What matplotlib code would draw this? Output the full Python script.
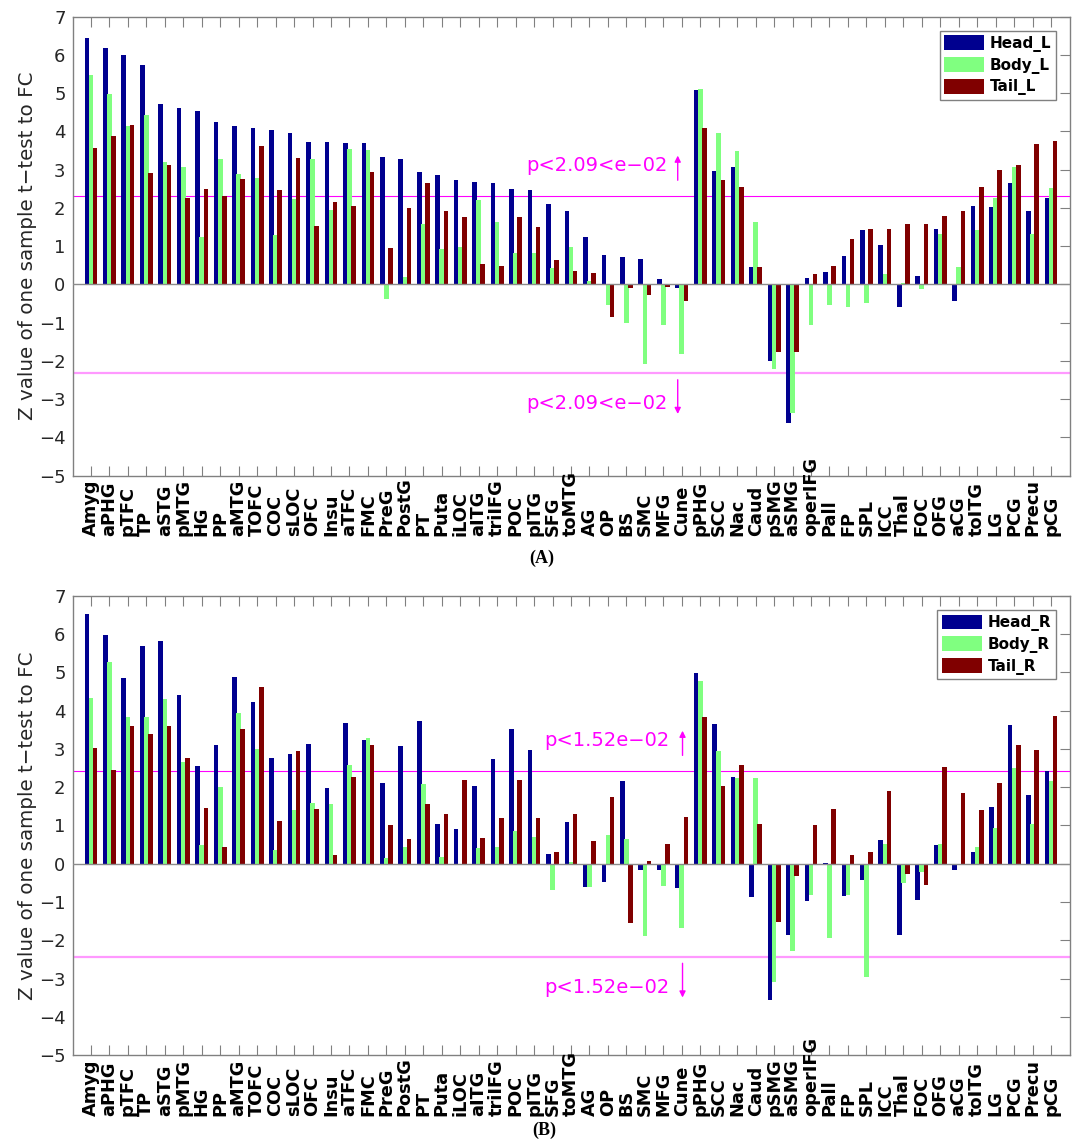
import numpy as np
import matplotlib
matplotlib.use("Agg")
import matplotlib.pyplot as plt

regions = ['Amyg', 'aPHG', 'pTFC', 'TP', 'aSTG', 'pMTG', 'HG', 'PP', 'aMTG', 'TOFC',
           'COC', 'sLOC', 'OFC', 'Insu', 'aTFC', 'FMC', 'PreG', 'PostG', 'PT', 'Puta',
           'iLOC', 'aITG', 'triIFG', 'POC', 'pITG', 'SFG', 'toMTG', 'AG', 'OP', 'BS',
           'SMC', 'MFG', 'Cune', 'pPHG', 'SCC', 'Nac', 'Caud', 'pSMG', 'aSMG', 'operIFG',
           'Pall', 'FP', 'SPL', 'ICC', 'Thal', 'FOC', 'OFG', 'aCG', 'toITG', 'LG',
           'PCG', 'Precu', 'pCG']

# left hippocampus
head_L = [6.43, 6.19, 6.00, 5.73, 4.71, 4.61, 4.52, 4.24, 4.15, 4.08,
          4.03, 3.95, 3.72, 3.72, 3.69, 3.69, 3.32, 3.27, 2.95, 2.86,
          2.72, 2.68, 2.66, 2.50, 2.48, 2.10, 1.93, 1.25, 0.78, 0.71,
          0.67, 0.13, -0.10, 5.08, 2.97, 3.06, 0.46, -2.00, -3.62, 0.17,
          0.33, 0.75, 1.42, 1.02, -0.58, 0.21, 1.45, -0.43, 2.04, 2.02,
          2.65, 1.91, 2.26]
body_L = [5.47, 4.99, 4.15, 4.42, 3.20, 3.08, 1.25, 3.29, 2.88, 2.79,
          1.30, 2.23, 3.27, 1.94, 3.54, 3.52, -0.39, 0.20, 1.59, 0.93,
          0.98, 2.21, 1.63, 0.83, 0.83, 0.44, 0.98, 0.09, -0.55, -1.00,
          -2.07, -1.06, -1.83, 5.12, 3.95, 3.49, 1.63, -2.22, -3.35, -1.06,
          -0.54, -0.60, -0.48, 0.28, 0.04, -0.13, 1.31, 0.46, 1.42, 2.27,
          3.06, 1.32, 2.51]
tail_L = [3.56, 3.88, 4.17, 2.92, 3.13, 2.26, 2.50, 2.31, 2.75, 3.62,
          2.47, 3.30, 1.53, 2.16, 2.06, 2.93, 0.95, 1.99, 2.66, 1.91,
          1.76, 0.54, 0.47, 1.77, 1.51, 0.64, 0.34, 0.31, -0.86, -0.09,
          -0.27, -0.07, -0.43, 4.10, 2.73, 2.55, 0.46, -1.76, -1.76, 0.27,
          0.47, 1.18, 1.44, 1.45, 1.59, 1.59, 1.79, 1.93, 2.55, 2.99,
          3.13, 3.66, 3.76]

# right hippocampus
head_R = [6.54, 5.97, 4.86, 5.68, 5.82, 4.41, 2.56, 3.10, 4.88, 4.24,
          2.77, 2.87, 3.13, 1.97, 3.68, 3.23, 2.12, 3.08, 3.73, 1.05,
          0.92, 2.02, 2.75, 3.51, 2.97, 0.26, 1.09, -0.61, -0.49, 2.16,
          -0.17, -0.17, -0.64, 4.98, 3.66, 2.27, -0.87, -3.56, -1.86, -0.98,
          0.03, -0.85, -0.42, 0.63, -1.86, -0.94, 0.49, -0.17, 0.31, 1.48,
          3.62, 1.79, 2.43]
body_R = [4.34, 5.27, 3.84, 3.83, 4.31, 2.65, 0.48, 2.00, 3.93, 2.99,
          0.37, 1.41, 1.59, 1.56, 2.59, 3.30, 0.14, 0.44, 2.09, 0.17,
          -0.03, 0.40, 0.45, 0.85, 0.71, -0.69, 0.04, -0.60, 0.75, 0.64,
          -1.88, -0.57, -1.67, 4.78, 2.94, 2.23, 2.24, -3.10, -2.28, -0.82,
          -1.93, -0.82, -2.96, 0.51, -0.51, -0.22, 0.51, -0.04, 0.43, 0.93,
          2.50, 1.04, 2.17]
tail_R = [3.02, 2.44, 3.59, 3.40, 3.61, 2.77, 1.46, 0.45, 3.52, 4.61,
          1.12, 2.94, 1.44, 0.22, 2.26, 3.11, 1.00, 0.64, 1.57, 1.29,
          2.20, 0.68, 1.19, 2.20, 1.20, 0.31, 1.31, 0.60, 1.74, -1.56,
          0.07, 0.51, 1.22, 3.83, 2.03, 2.59, 1.05, -1.51, -0.31, 1.00,
          1.44, 0.24, 0.31, 1.91, -0.26, -0.55, 2.52, 1.86, 1.40, 2.12,
          3.11, 2.98, 3.85]

thr_L = 2.32
thr_R = 2.43
ptext_L = 'p<2.09<e\u221202'
ptext_R = 'p<1.52e\u221202'

colors = ['#00008f', '#80ff80', '#800000']
magenta = '#ff00ff'


def draw_panel(ax, series, names, thr, ptext, tx, ax_x):
    x = np.arange(1, len(regions) + 1)
    offs = [-0.222, 0.0, 0.222]
    for s, lab, c, o in zip(series, names, colors, offs):
        ax.bar(x + o, s, width=0.25, color=c, edgecolor='none', label=lab, zorder=2)

    ax.axhline(0, color='#8c8c8c', lw=1.0, zorder=3)
    ax.axhline(thr, color=magenta, lw=0.8, zorder=1)
    ax.axhline(-thr, color='#ff99ff', lw=1.6, zorder=1)

    # significance labels with arrows
    ax.text(tx, thr + 0.80, ptext, color=magenta, fontsize=14, ha='left', va='center')
    ax.text(tx, -thr - 0.80, ptext, color=magenta, fontsize=14, ha='left', va='center')
    ax.annotate('', xy=(ax_x, thr + 1.12), xytext=(ax_x, thr + 0.33),
                arrowprops=dict(arrowstyle='-|>', color=magenta, lw=1.0, mutation_scale=9))
    ax.annotate('', xy=(ax_x, -thr - 1.14), xytext=(ax_x, -thr - 0.10),
                arrowprops=dict(arrowstyle='-|>', color=magenta, lw=1.0, mutation_scale=9))

    ax.set_xlim(0, len(regions) + 1)
    ax.set_ylim(-5, 7)
    ax.set_yticks(range(-5, 8))
    ax.set_yticklabels([str(v).replace('-', '\u2212') for v in range(-5, 8)])
    ax.set_xticks(x)
    ax.set_xticklabels([])
    ax.tick_params(axis='x', direction='in', top=True, bottom=True, length=7,
                   width=0.8, color='#808080')
    ax.tick_params(axis='y', direction='in', left=False, right=True, length=7,
                   width=0.8, color='#808080', labelsize=13, labelcolor='#262626', pad=5)
    for sp in ax.spines.values():
        sp.set_color('#808080')
        sp.set_linewidth(1.0)

    ax.set_ylabel('Z value of one sample t\u2212test to FC', fontsize=14.3, color='#262626')
    ax.yaxis.set_label_coords(-0.036, 0.5)

    # region names, rotated, starting below the axis
    for xi, name in zip(x, regions):
        ax.text(xi, -0.132, name, transform=ax.get_xaxis_transform(), rotation=90,
                ha='center', va='bottom', fontsize=12.8, fontweight='bold', color='black')

    leg = ax.legend(loc='upper right', bbox_to_anchor=(0.9865, 0.9695), borderaxespad=0,
                    fancybox=False, framealpha=1, edgecolor='#808080',
                    prop={'size': 11, 'weight': 'bold'}, handlelength=2.6,
                    handleheight=1.1, labelspacing=0.35, handletextpad=0.4,
                    borderpad=0.3)
    leg.get_frame().set_linewidth(1.0)


fig = plt.figure(figsize=(10.79, 11.47), dpi=100)
axA = fig.add_axes([0.0672, 0.5853, 0.924, 0.4002])
axB = fig.add_axes([0.0672, 0.0802, 0.924, 0.4002])

draw_panel(axA, [head_L, body_L, tail_L], ['Head_L', 'Body_L', 'Tail_L'],
           thr_L, ptext_L, 24.55, 32.78)
draw_panel(axB, [head_R, body_R, tail_R], ['Head_R', 'Body_R', 'Tail_R'],
           thr_R, ptext_R, 25.54, 33.04)

fig.text(0.502, 0.5135, '(A)', fontsize=13, fontweight='bold',
         family='Liberation Serif', ha='center', va='center')
fig.text(0.504, 0.0148, '(B)', fontsize=13, fontweight='bold',
         family='Liberation Serif', ha='center', va='center')

plt.savefig('out.png', dpi=100)
